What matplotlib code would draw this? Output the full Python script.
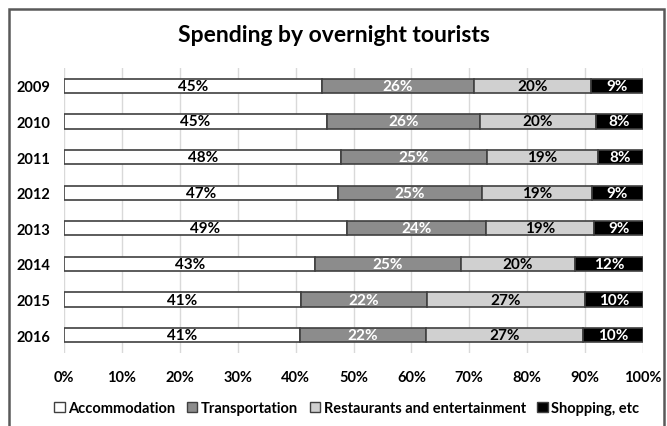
import matplotlib.pyplot as plt
from matplotlib.patches import Rectangle, Patch

years = ["2009", "2010", "2011", "2012", "2013", "2014", "2015", "2016"]
categories = ["Accommodation", "Transportation", "Restaurants and entertainment", "Shopping, etc"]
accommodation = [44.6, 45.4, 47.9, 47.3, 48.8, 43.4, 40.9, 40.8]
transportation = [26.2, 26.4, 25.1, 24.9, 24.1, 25.1, 21.8, 21.7]
restaurants = [20.2, 20.1, 19.2, 19.0, 18.6, 19.8, 27.2, 27.2]
shopping = [9.0, 8.1, 7.8, 8.8, 8.6, 11.7, 10.1, 10.3]
xticks = [0, 10, 20, 30, 40, 50, 60, 70, 80, 90, 100]

plt.rcParams["font.family"] = ["Lato", "DejaVu Sans"]

fills = ["#ffffff", "#8c8c8c", "#d0d0d0", "#000000"]
textcol = ["black", "white", "black", "white"]
edge = "#404040"

fig = plt.figure(figsize=(6.67, 4.27), dpi=100)
ax = fig.add_axes([64 / 667, 1 - 354 / 427, 579 / 667, 285 / 427])

series = [accommodation, transportation, restaurants, shopping]
left = [0.0] * len(years)
ypos = list(range(len(years)))
for vals, fc, tc, name in zip(series, fills, textcol, categories):
    bars = ax.barh(ypos, vals, left=left, height=0.4, color=fc,
                   edgecolor=edge, linewidth=1.2, label=name, zorder=3)
    for b, v in zip(bars, vals):
        ax.text(b.get_x() + b.get_width() / 2, b.get_y() + b.get_height() / 2,
                "%d%%" % round(v), ha="center", va="center", color=tc,
                fontsize=11, fontweight="bold", zorder=4)
    left = [l + v for l, v in zip(left, vals)]

ax.set_xlim(0, 100)
ax.set_ylim(len(years) - 0.5, -0.5)
ax.set_xticks(xticks)
ax.set_xticklabels(["%d%%" % t for t in xticks], fontsize=10.5, fontweight="bold")
ax.set_yticks(ypos)
ax.set_yticklabels(years, fontsize=10.5, fontweight="bold")
ax.tick_params(axis="x", length=0, pad=12)
ax.tick_params(axis="y", length=0, pad=10)
ax.grid(axis="x", color="#d9d9d9", linewidth=1, zorder=0)
for s in ax.spines.values():
    s.set_visible(False)

fig.text(0.5, 1 - 36 / 427, "Spending by overnight tourists", ha="center", va="center",
         fontsize=16.5, fontweight="bold")

handles = [Patch(facecolor=fc, edgecolor=edge, linewidth=1) for fc in fills]
fig.legend(handles, categories, loc="center", bbox_to_anchor=(0.52, 1 - 409 / 427),
           ncol=4, frameon=False, handlelength=0.7, handleheight=0.7,
           handletextpad=0.25, columnspacing=0.8,
           prop={"size": 10.5, "weight": "bold"})

fig.patches.append(Rectangle((8.5 / 667, -0.1), 655.5 / 667, 1 - 9.5 / 427 + 0.1,
                             transform=fig.transFigure, fill=False,
                             edgecolor="#595959", linewidth=1.8))

fig.savefig("out.png", dpi=100)
